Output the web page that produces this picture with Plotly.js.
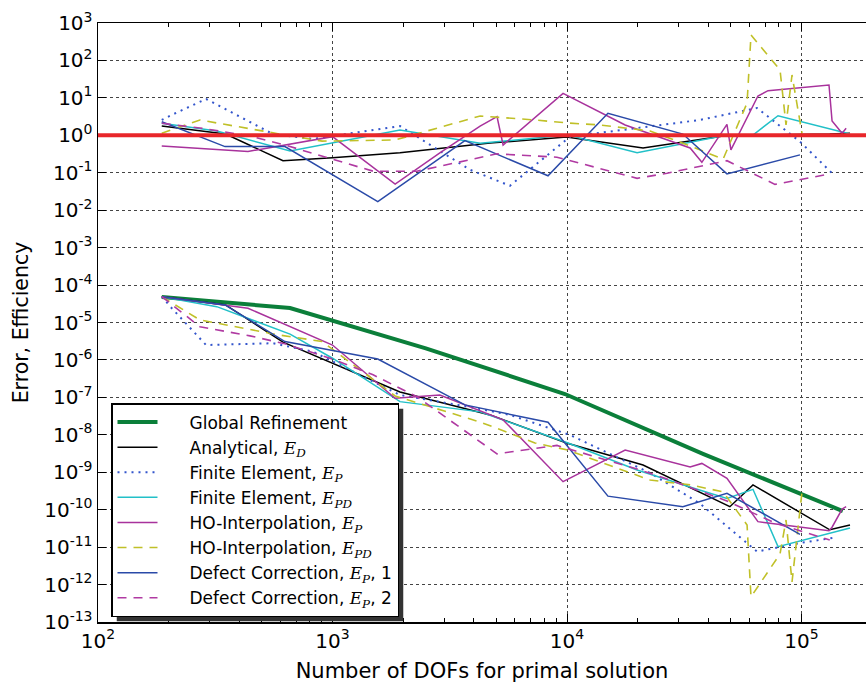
<!DOCTYPE html>
<html><head><meta charset="utf-8">
<script src="https://cdn.plot.ly/plotly-3.0.1.min.js"></script>
<style>html,body{margin:0;padding:0;background:#fff}#plot{width:866px;height:684px}</style>
</head><body><div id="plot"></div>
<script>
// ---- data ----
const globalX   = [187, 659, 2500, 9800, 38000, 150000];
const globalErr = [4.8e-5, 2.44e-5, 2.04e-6, 1.23e-7, 3.1e-9, 9.2e-11];

const anaX   = [187, 350, 615, 1000, 1940, 4700, 9950, 21100, 49500, 62100, 132000, 161000];
const anaErr = [4.9e-5, 2.94e-5, 3.0e-6, 8.3e-7, 1.39e-7, 3.4e-8, 6.05e-9, 1.56e-9, 1.2e-10, 4.6e-10, 2.9e-11, 3.9e-11];
const anaEff = [1.77, 1.08, 0.21, 0.25, 0.34, 0.62, 0.90, 0.46, 1.02, 1.02, 1.08, 1.13];

const fepX   = [187, 206, 289, 557, 826, 1940, 3860, 5710, 10300, 22600, 36900, 64600, 98500, 136000];
const fepErr = [4.9e-5, 2.44e-5, 2.5e-6, 2.8e-6, 1.66e-6, 1.16e-7, 5.5e-8, 3.4e-8, 9.9e-9, 9.6e-10, 1.46e-10, 7.6e-12, 1.29e-11, 1.76e-11];
const fepEff = [2.57, 3.49, 9.33, 1.08, 0.80, 1.77, 0.12, 0.045, 0.92, 1.70, 2.57, 5.37, 0.68, 0.093];

const fepdX   = [187, 321, 659, 1000, 1940, 4260, 10100, 19900, 34500, 48100, 62100, 79400, 161000];
const fepdErr = [4.9e-5, 2.65e-5, 4.9e-6, 1.11e-6, 7.7e-8, 4.1e-8, 6.05e-9, 1.15e-9, 3.8e-10, 2.0e-10, 3.5e-10, 1.03e-11, 3.25e-11];
const fepdEff = [2.09, 1.30, 0.38, 0.62, 1.39, 0.61, 1.02, 0.34, 0.68, 1.02, 1.02, 3.34, 1.08];

const hopX   = [187, 436, 1000, 1850, 2870, 4260, 5030, 5340, 9620, 17700, 33500, 37600, 48100, 50000, 65200, 72000, 131000, 135000, 149000, 155000];
const hopErr = [4.9e-5, 2.4e-5, 2.5e-6, 9.5e-8, 1.16e-7, 4.3e-8, 2.9e-8, 2.5e-8, 5.6e-10, 3.9e-9, 1.38e-9, 1.72e-9, 6.9e-10, 4.9e-10, 4.8e-11, 4.4e-11, 2.75e-11, 3.4e-11, 1.04e-10, 1.2e-10];
const hopEff = [0.52, 0.37, 0.92, 0.050, 0.34, 1.77, 3.14, 0.55, 13.2, 1.89, 0.46, 0.19, 1.97, 0.41, 11.2, 15.6, 22.1, 2.41, 1.13, 1.54];

const hopdX   = [187, 272, 597, 903, 1850, 4260, 7300, 10100, 13800, 22600, 33500, 46300, 58600, 60900, 81000, 85900, 91100, 100500];
const hopdErr = [4.9e-5, 1.17e-5, 4.6e-6, 3.1e-6, 1.09e-7, 2.2e-8, 6.05e-9, 3.9e-9, 1.9e-9, 6.2e-10, 4.6e-10, 3.0e-10, 3.9e-11, 4.7e-13, 6.6e-12, 5.3e-11, 1.17e-12, 3.0e-10];
const hopdEff = [1.13, 2.57, 1.08, 0.70, 0.75, 3.28, 2.57, 2.13, 1.89, 1.30, 0.52, 0.23, 7.30, 478, 55.5, 1.89, 40.8, 1.13];

const dc1X   = [187, 348, 627, 1560, 3670, 8300, 14950, 31200, 48100, 98500];
const dc1Err = [4.9e-5, 2.94e-5, 3.1e-6, 1.06e-6, 6.3e-8, 2.16e-8, 2.3e-10, 1.2e-10, 2.75e-10, 2.2e-11];
const dc1Eff = [2.31, 0.50, 0.50, 0.017, 0.72, 0.083, 3.87, 1.08, 0.093, 0.30];

const dc2X   = [187, 235, 272, 445, 627, 976, 1490, 2290, 5030, 9060, 19900, 26700, 48100, 77100, 132000];
const dc2Err = [4.9e-5, 1.59e-5, 7.7e-6, 4.4e-6, 2.7e-6, 1.11e-6, 4.0e-7, 1.04e-7, 3.1e-9, 5.2e-9, 1.22e-9, 6.6e-10, 1.71e-10, 4.4e-11, 1.55e-11];
const dc2Eff = [2.09, 1.77, 1.57, 0.96, 0.55, 0.24, 0.11, 0.11, 0.32, 0.26, 0.071, 0.097, 0.21, 0.049, 0.093];

const efficiencyRef = 1;

const yTickVals = [1e3,1e2,1e1,1e0,1e-1,1e-2,1e-3,1e-4,1e-5,1e-6,1e-7,1e-8,1e-9,1e-10,1e-11,1e-12,1e-13];
const yTickText = ['10<sup>3</sup>','10<sup>2</sup>','10<sup>1</sup>','10<sup>0</sup>','10<sup>-1</sup>','10<sup>-2</sup>','10<sup>-3</sup>','10<sup>-4</sup>','10<sup>-5</sup>','10<sup>-6</sup>','10<sup>-7</sup>','10<sup>-8</sup>','10<sup>-9</sup>','10<sup>-10</sup>','10<sup>-11</sup>','10<sup>-12</sup>','10<sup>-13</sup>'];
const xTickVals = [1e2,1e3,1e4,1e5];
const xTickText = ['10<sup>2</sup>','10<sup>3</sup>','10<sup>4</sup>','10<sup>5</sup>'];

// ---- rendering ----
const E = '<span style="font-family:\'DejaVu Serif\'"><i>E</i></span>';
const sub = s => '<sub><span style="font-family:\'DejaVu Serif\'"><i>' + s + '</i></span></sub>';
const pad = '\u00a0\u00a0\u00a0\u00a0\u00a0';

const series = [
  {name:'Global Refinement', x:globalX, err:globalErr, eff:null, line:{color:'#0b7f3a', width:4}},
  {name:'Analytical, ' + E + sub('D'), x:anaX, err:anaErr, eff:anaEff, line:{color:'#000000', width:1.5}},
  {name:'Finite Element, ' + E + sub('P'), x:fepX, err:fepErr, eff:fepEff, line:{color:'#3355cc', width:2, dash:'2px,5px'}},
  {name:'Finite Element, ' + E + sub('PD'), x:fepdX, err:fepdErr, eff:fepdEff, line:{color:'#22c0c8', width:1.5}},
  {name:'HO-Interpolation, ' + E + sub('P'), x:hopX, err:hopErr, eff:hopEff, line:{color:'#a8329c', width:1.5}},
  {name:'HO-Interpolation, ' + E + sub('PD'), x:hopdX, err:hopdErr, eff:hopdEff, line:{color:'#c0c028', width:1.6, dash:'9px,7px'}},
  {name:'Defect Correction, ' + E + sub('P') + ', 1', x:dc1X, err:dc1Err, eff:dc1Eff, line:{color:'#2a4aa8', width:1.5}},
  {name:'Defect Correction, ' + E + sub('P') + ', 2', x:dc2X, err:dc2Err, eff:dc2Eff, line:{color:'#b03aa2', width:1.6, dash:'9px,7px'}}
];

const traces = [];
series.forEach((s, i) => {
  traces.push({x:s.x, y:s.err, mode:'lines', name:pad + s.name, legendgroup:'g'+i, line:s.line, type:'scatter'});
  if (s.eff) traces.push({x:s.x, y:s.eff, mode:'lines', name:s.name, legendgroup:'g'+i, showlegend:false, line:s.line, type:'scatter'});
});

const tickFont = {family:'DejaVu Sans', size:20, color:'#000'};
const W = 866, H = 684, ml = 98, mr = 0, mt = 23, mb = 62;
const pw = W - ml - mr, ph = H - mt - mb;
const px = v => (v - ml) / pw, py = v => (H - mb - v) / ph;

const layout = {
  width:W, height:H,
  margin:{l:ml, r:mr, t:mt, b:mb, pad:0},
  paper_bgcolor:'#fff', plot_bgcolor:'#fff',
  showlegend:true,
  xaxis:{type:'log', range:[2, 2 + pw/234.5], tickvals:xTickVals, ticktext:xTickText,
    ticks:'inside', ticklen:8, tickwidth:1, tickcolor:'#000',
    minor:{ticks:'inside', ticklen:4, tickwidth:1, tickcolor:'#000', dtick:'D1', showgrid:false},
    showline:true, linecolor:'#000', linewidth:1.5, mirror:'ticks',
    showgrid:true, gridcolor:'#444', griddash:'dot', gridwidth:1,
    tickfont:tickFont, zeroline:false,
    title:{text:'Number of DOFs for primal solution', font:{family:'DejaVu Sans', size:21, color:'#000'}, standoff:12}},
  yaxis:{type:'log', range:[-13, 3], tickvals:yTickVals, ticktext:yTickText,
    ticks:'inside', ticklen:8, tickwidth:1, tickcolor:'#000',
    showline:true, linecolor:'#000', linewidth:1.5, mirror:false,
    showgrid:true, gridcolor:'#444', griddash:'dot', gridwidth:1,
    tickfont:tickFont, zeroline:false,
    title:{text:'Error, Efficiency', font:{family:'DejaVu Sans', size:20.5, color:'#000'}, standoff:10}},
  legend:{x:px(111), y:py(403), xanchor:'left', yanchor:'top',
    bgcolor:'#fff', bordercolor:'#000', borderwidth:1.5,
    font:{family:'DejaVu Sans', size:17, color:'#000'}, itemwidth:40, tracegroupgap:0},
  shapes:[
    {type:'line', xref:'paper', x0:0, x1:1, yref:'y', y0:efficiencyRef, y1:efficiencyRef,
     line:{color:'#e8262a', width:4}, layer:'above'}
  ]
};

Plotly.newPlot('plot', traces, layout, {staticPlot:true}).then(gd => {
  const bg = gd.querySelector('.legend rect.bg');
  if (!bg) return;
  const r = bg.getBoundingClientRect();
  const shadow = {type:'rect', xref:'paper', yref:'paper',
    x0:px(r.left + 5), x1:px(r.right + 5), y0:py(r.bottom + 5), y1:py(r.top + 5),
    fillcolor:'#333', line:{width:0}, layer:'above'};
  Plotly.relayout(gd, {shapes: layout.shapes.concat([shadow])});
});
</script></body></html>
